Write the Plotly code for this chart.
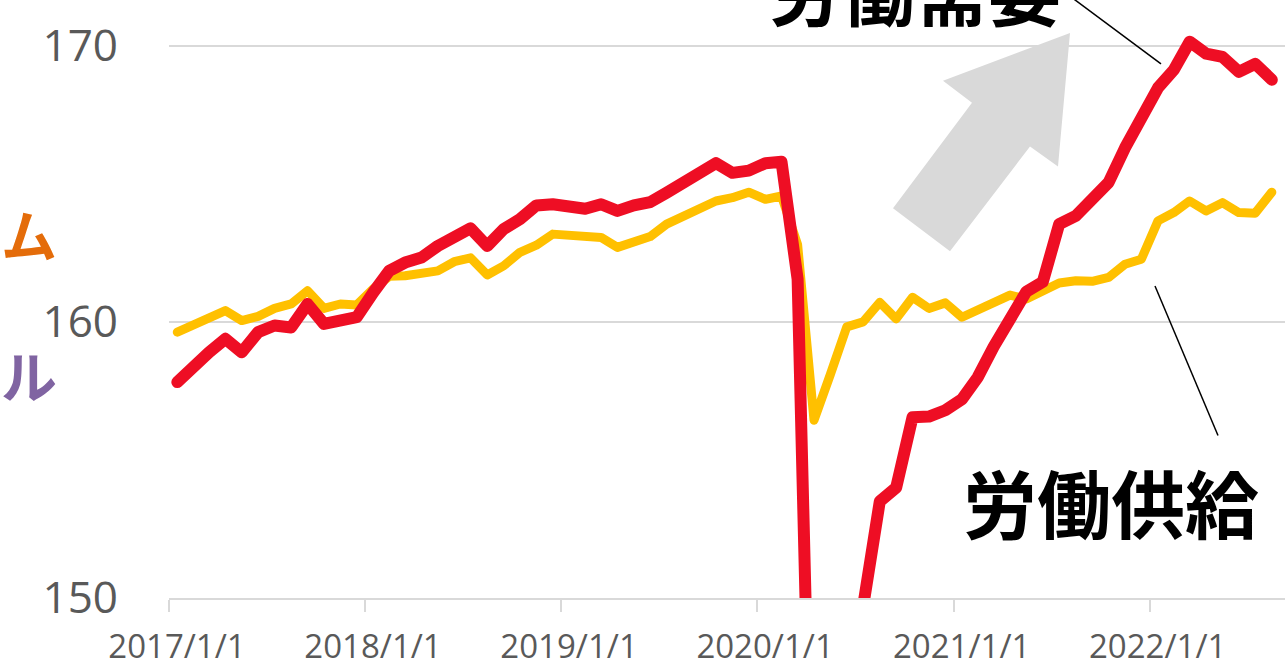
import pandas as pd
import plotly.graph_objects as go

# ---- data ----
months = pd.date_range("2017-01-01", "2022-08-01", freq="MS").strftime("%Y-%m").tolist()

labour_demand = [
    157.82, 158.42, 158.90, 159.39, 158.90, 159.63, 159.87, 159.80, 160.65, 159.93, 160.00, 160.17,
    161.07, 161.85, 162.15, 162.33, 162.75, 163.06, 163.39, 162.75, 163.36, 163.72, 164.22, 164.26,
    164.14, 164.10, 164.26, 164.02, 164.22, 164.34, 164.68, 165.04, 165.46, 165.75, 165.40, 165.48,
    165.75, 165.80, 161.55, 137.50, 138.50, 143.50, 149.70, 153.50, 154.00, 156.55, 156.57, 156.80,
    157.20, 158.00, 159.10, 160.20, 161.10, 161.45, 163.54, 163.84, 164.44, 165.05, 166.30, 167.33,
    168.48, 169.13, 170.15, 169.72, 169.60, 169.06, 169.35, 168.77,
]
labour_supply = [
    159.63, 159.89, 160.20, 160.41, 160.05, 160.20, 160.49, 160.65, 161.13, 160.49, 160.65, 160.61,
    161.20, 161.65, 161.67, 161.79, 161.85, 162.18, 162.32, 161.70, 162.03, 162.52, 162.78, 163.18,
    163.12, 163.14, 163.06, 162.70, 162.88, 163.09, 163.54, 163.84, 164.12, 164.38, 164.50, 164.70,
    164.44, 164.56, 162.80, 156.44, 158.10, 159.82, 160.00, 160.71, 160.11, 160.89, 160.49, 160.69,
    160.17, 160.41, 160.65, 160.97, 160.83, 161.13, 161.41, 161.49, 161.47, 161.61, 162.09, 162.27,
    163.66, 163.96, 164.38, 164.02, 164.32, 163.96, 163.94, 164.70,
]
year_ticks = ["2017-01-01", "2018-01-01", "2019-01-01", "2020-01-01", "2021-01-01", "2022-01-01"]
year_labels = ["2017/1/1", "2018/1/1", "2019/1/1", "2020/1/1", "2021/1/1", "2022/1/1"]
y_ticks = [150, 160, 170]

# ---- layout geometry (pixels) ----
W, H = 1285, 668
L, R, T, B = 169, 0, 0, 68
PW, PH = W - L - R, H - T - B


def px(x, y):
    return (x - L) / PW, (PH + T - y) / PH


fig = go.Figure()
fig.add_trace(go.Scatter(
    x=months, y=labour_supply, mode="lines", name="労働供給",
    xperiod="M1", xperiodalignment="middle",
    line=dict(color="#FFC000", width=9),
))
fig.add_trace(go.Scatter(
    x=months, y=labour_demand, mode="lines", name="労働需要",
    xperiod="M1", xperiodalignment="middle",
    line=dict(color="#EE0E24", width=12),
))

# grey block arrow
pts = [(893, 209), (972, 103), (943, 81), (1070, 33), (1058, 167), (1030, 147), (950, 252)]
path = "M " + " L ".join("{:.5f},{:.5f}".format(*px(a, b)) for a, b in pts) + " Z"
shapes = [dict(type="path", path=path, xref="paper", yref="paper",
               fillcolor="#D9D9D9", line=dict(width=0), layer="above")]
for (a, b), (c, d) in [((1055, -15), (1161, 64)), ((1155, 287), (1218, 437))]:
    x0, y0 = px(a, b)
    x1, y1 = px(c, d)
    shapes.append(dict(type="line", xref="paper", yref="paper", x0=x0, y0=y0, x1=x1, y1=y1,
                       line=dict(color="black", width=1.5), layer="above"))

cjk = "Noto Sans CJK JP"
annotations = []
for text, cx, cy, size, color in [
    ("労働需要", 915, -12, 73, "black"),
    ("労働供給", 1111, 502, 74, "black"),
    ("ム", 29, 233, 56, "#E46C0A"),
    ("ル", 29, 375, 56, "#8064A2"),
]:
    ax, ay = px(cx, cy)
    annotations.append(dict(text="<b>" + text + "</b>", x=ax, y=ay, xref="paper", yref="paper",
                            xanchor="center", yanchor="middle", showarrow=False,
                            font=dict(family=cjk, size=size, color=color)))

fig.update_layout(
    width=W, height=H,
    margin=dict(l=L, r=R, t=T, b=B, pad=0),
    paper_bgcolor="white", plot_bgcolor="white",
    showlegend=False,
    shapes=shapes, annotations=annotations,
    xaxis=dict(
        type="date", range=["2017-01-01", "2022-09-10"],
        tickvals=year_ticks, ticktext=year_labels,
        showgrid=False, zeroline=False,
        showline=True, linecolor="#D9D9D9", linewidth=2,
        ticks="outside", ticklen=12, tickwidth=2, tickcolor="#D9D9D9",
        ticklabelshift=8, ticklabelstandoff=6,
        tickfont=dict(family="Open Sans", size=33, color="#595959"),
    ),
    yaxis=dict(
        range=[150, 171.66], tickvals=y_ticks,
        showgrid=True, gridcolor="#D9D9D9", gridwidth=2,
        zeroline=False, showline=False, ticks="",
        ticklabelstandoff=50,
        tickfont=dict(family="Open Sans", size=44, color="#595959"),
    ),
)

fig.write_html(
    "out.html",
    post_script="document.querySelectorAll('.js-line').forEach(function(p){p.style.strokeLinejoin='round';p.style.strokeLinecap='round';});",
)
